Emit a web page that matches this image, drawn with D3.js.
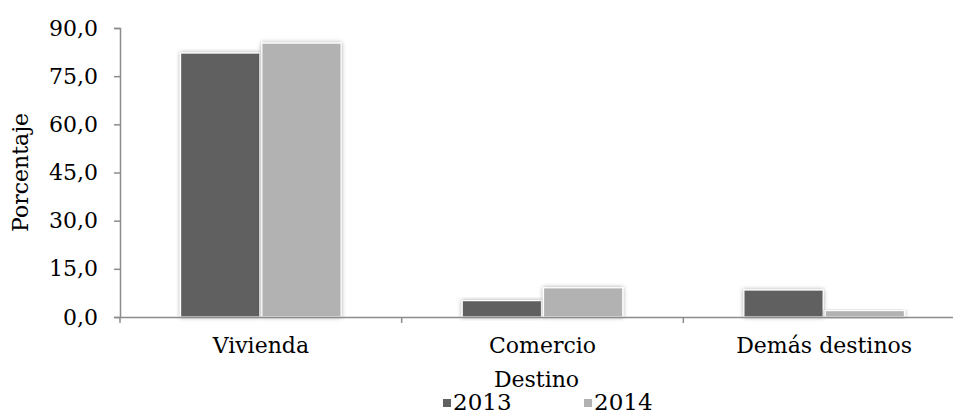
<!DOCTYPE html>
<html>
<head>
<meta charset="utf-8">
<script src="https://cdn.jsdelivr.net/npm/d3@7"></script>
<style>
  body { margin: 0; background: #fff; }
  svg { display: block; font-family: "DejaVu Serif", serif; }
</style>
</head>
<body>
<svg width="953" height="416"></svg>
<script>
// chart data
let categories = ["Vivienda", "Comercio", "Demás destinos"];
let series = ["2013", "2014"];
let values2013 = [82.2, 5.1, 8.4];
let values2014 = [85.3, 9.1, 2.0];
let yTicks = [0, 15, 30, 45, 60, 75, 90];

let colors = { "2013": "#606060", "2014": "#b2b2b2" };
let axisColor = "#8c8c8c";

let width = 953,
  height = 416;
let margin = { left: 120, right: -12, top: 28, bottom: 99 };

let svg = d3.select("svg");

// drop shadow for bars
let defs = svg.append("defs");
let filter = defs.append("filter").attr("id", "shadow")
  .attr("x", "-20%").attr("y", "-20%").attr("width", "140%").attr("height", "140%");
filter.append("feDropShadow")
  .attr("dx", 0).attr("dy", 0).attr("stdDeviation", 2)
  .attr("flood-color", "#000").attr("flood-opacity", 0.35);

let x = d3.scaleBand()
  .domain(categories)
  .range([margin.left, width - margin.right])
  .paddingInner(0).paddingOuter(0);

let bw = x.bandwidth();
let groupW = bw * 0.57;
let x1 = d3.scaleBand()
  .domain(series)
  .range([(bw - groupW) / 2, (bw + groupW) / 2])
  .paddingInner(0.025);

let y = d3.scaleLinear()
  .domain([0, 90])
  .range([height - margin.bottom, margin.top]);

let fmt = (d) => d3.format(".1f")(d).replace(".", ",");

// bars
let rows = categories.map((c, i) => ({
  cat: c,
  vals: [{ s: "2013", v: values2013[i] }, { s: "2014", v: values2014[i] }]
}));

svg.append("g")
  .selectAll("g")
  .data(rows)
  .enter()
  .append("g")
  .attr("transform", (d) => "translate(" + x(d.cat) + ",0)")
  .selectAll("rect")
  .data((d) => d.vals)
  .enter()
  .append("rect")
  .attr("x", (d) => x1(d.s))
  .attr("y", (d) => y(d.v))
  .attr("width", x1.bandwidth())
  .attr("height", (d) => y(0) - y(d.v))
  .attr("fill", (d) => colors[d.s])
  .attr("stroke", "#fff")
  .attr("stroke-width", 1.2)
  .attr("filter", "url(#shadow)");

// y axis
let yAxis = svg.append("g")
  .attr("transform", "translate(" + margin.left + ",0)")
  .call(d3.axisLeft(y).tickValues(yTicks).tickFormat(fmt).tickSize(6).tickSizeOuter(6).tickPadding(16));
yAxis.selectAll("path, line").attr("stroke", axisColor).attr("stroke-width", 1.5);
yAxis.selectAll("text").style("font-size", "22px").attr("fill", "#000").style("font-family", "DejaVu Serif");

// x axis
let xAxis = svg.append("g")
  .attr("transform", "translate(0," + y(0) + ")")
  .call(d3.axisBottom(x).tickSize(0).tickPadding(20));
xAxis.select(".domain").attr("stroke", axisColor).attr("stroke-width", 1.5);
xAxis.selectAll("text").style("font-size", "22px").attr("fill", "#000").style("font-family", "DejaVu Serif");

// category boundary ticks
let bounds = categories.map((c) => x(c)).concat([x(categories[2]) + x.bandwidth()]);
xAxis.selectAll(".bound")
  .data(bounds)
  .enter()
  .append("line")
  .attr("x1", (d) => d).attr("x2", (d) => d)
  .attr("y1", 0).attr("y2", 6)
  .attr("stroke", axisColor).attr("stroke-width", 1.5);

// axis titles
svg.append("text")
  .attr("transform", "translate(28," + ((y(0) + y(90)) / 2) + ") rotate(-90)")
  .attr("text-anchor", "middle")
  .style("font-size", "22px")
  .text("Porcentaje");

svg.append("text")
  .attr("x", (x.range()[0] + x.range()[1]) / 2 - 6)
  .attr("y", 387)
  .attr("text-anchor", "middle")
  .style("font-size", "22px")
  .text("Destino");

// legend
let legend = svg.append("g").attr("transform", "translate(443,410)");
let items = legend.selectAll("g")
  .data(series)
  .enter()
  .append("g")
  .attr("transform", (d, i) => "translate(" + i * 141 + ",0)");
items.append("rect")
  .attr("x", 0).attr("y", -11)
  .attr("width", 8).attr("height", 8)
  .attr("fill", (d) => colors[d]);
items.append("text")
  .attr("x", 10).attr("y", 0)
  .style("font-size", "23px")
  .text((d) => d);
</script>
</body>
</html>
